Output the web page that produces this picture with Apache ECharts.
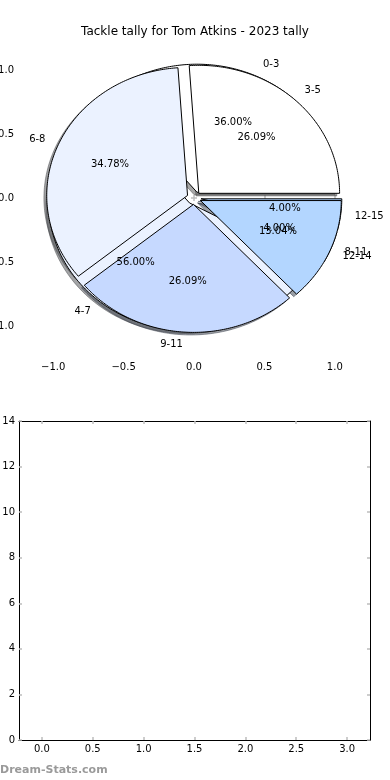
<!DOCTYPE html>
<html><head><meta charset="utf-8">
<script src="https://cdn.jsdelivr.net/npm/echarts@6/dist/echarts.min.js"></script>
<style>html,body{margin:0;padding:0;background:#fff}#c{width:390px;height:780px}</style>
</head><body><div id="c"></div>
<script>
const titleText = 'Tackle tally for Tom Atkins - 2023 tally';
const pieALabels = ['0-3', '4-7', '8-11', '12-15'];
const pieAValues = [9, 14, 1, 1];
const pieBLabels = ['3-5', '6-8', '9-11', '12-14'];
const pieBValues = [6, 8, 6, 3];
const pieColors = ['#ffffff', '#ebf2ff', '#c6d9ff', '#b3d6ff'];
const pieTicks = [-1, -0.5, 0, 0.5, 1];
const barXTicks = [0, 0.5, 1, 1.5, 2, 2.5, 3];
const barYMax = 14;
const watermarkText = 'Dream-Stats.com';

const FONT = 'DejaVu Sans';
const EXPLODE = 0.05, SHADOW = 0.02;

function wedges(values) {
  const total = values.reduce((a, b) => a + b, 0);
  let t1 = 0; const out = [];
  values.forEach((v, i) => {
    const t2 = t1 + v / total;
    const tm = Math.PI * (t1 + t2);
    out.push({ i, a1: t1 * 2 * Math.PI, a2: t2 * 2 * Math.PI, tm,
      cx: EXPLODE * Math.cos(tm), cy: EXPLODE * Math.sin(tm), frac: v / total });
    t1 = t2;
  });
  return out;
}
const pieA = wedges(pieAValues), pieB = wedges(pieBValues);
const pies = [pieA, pieB];
const pieLabelSets = [pieALabels, pieBLabels];

function poly(api, w, dx, dy) {
  const pts = [api.coord([w.cx + dx, w.cy + dy])];
  const n = Math.max(6, Math.ceil((w.a2 - w.a1) / 0.015));
  for (let k = 0; k <= n; k++) {
    const a = w.a1 + (w.a2 - w.a1) * k / n;
    pts.push(api.coord([w.cx + dx + Math.cos(a), w.cy + dy + Math.sin(a)]));
  }
  return pts;
}
function darker(hex) {
  const r = parseInt(hex.slice(1, 3), 16), g = parseInt(hex.slice(3, 5), 16), b = parseInt(hex.slice(5, 7), 16);
  return `rgba(${Math.round(r * 0.3)},${Math.round(g * 0.3)},${Math.round(b * 0.3)},0.5)`;
}
const minus = v => String(v).replace('-', '\u2212');
const fmt1 = v => minus(Number(v).toFixed(1));

const shadowData = [];
pies.forEach((p, pi) => p.forEach((w, i) => shadowData.push([pi, i])));

function wedgeSeries(pi, z) {
  return {
    type: 'custom', coordinateSystem: 'cartesian2d', xAxisIndex: 0, yAxisIndex: 0, z,
    silent: true, animation: false,
    data: (pi === 0 ? pieAValues : pieBValues).map((v, i) => [i, v]),
    renderItem: (params, api) => {
      const w = pies[pi][params.dataIndex];
      return { type: 'polygon', shape: { points: poly(api, w, 0, 0) },
        style: { fill: pieColors[w.i % pieColors.length], stroke: '#000', lineWidth: 1 } };
    }
  };
}
function textSeries(pi, z) {
  return {
    type: 'custom', coordinateSystem: 'cartesian2d', xAxisIndex: 0, yAxisIndex: 0, z,
    silent: true, animation: false,
    data: (pi === 0 ? pieAValues : pieBValues).map((v, i) => [i, v]),
    renderItem: (params, api) => {
      const w = pies[pi][params.dataIndex];
      const lx = w.cx + 1.1 * Math.cos(w.tm), ly = w.cy + 1.1 * Math.sin(w.tm);
      const px = w.cx + 0.6 * Math.cos(w.tm), py = w.cy + 0.6 * Math.sin(w.tm);
      const lp = api.coord([lx, ly]), pp = api.coord([px, py]);
      return { type: 'group', children: [
        { type: 'text', style: { text: pieLabelSets[pi][w.i], x: lp[0], y: lp[1], fill: '#000',
          font: '10px "' + FONT + '"', textAlign: lx > 0 ? 'left' : 'right', textVerticalAlign: 'middle' } },
        { type: 'text', style: { text: (w.frac * 100).toFixed(2) + '%', x: pp[0], y: pp[1], fill: '#000',
          font: '10px "' + FONT + '"', textAlign: 'center', textVerticalAlign: 'middle' } }
      ] };
    }
  };
}

const tickStyle = { show: true, inside: true, length: 3, lineStyle: { color: '#bdbdbd', width: 1.5 } };
const labelBase = { color: '#000', fontSize: 10, fontFamily: FONT };

const option = {
  backgroundColor: '#fff',
  animation: false,
  title: { text: titleText, left: 'center', top: 21,
    textStyle: { fontSize: 12, fontWeight: 'normal', color: '#000', fontFamily: FONT } },
  grid: [
    { left: 18, top: 38, width: 352, height: 320, containLabel: false, outerBoundsMode: 'none' },
    { left: 19, top: 421, width: 351, height: 319, containLabel: false, outerBoundsMode: 'none' }
  ],
  xAxis: [
    { gridIndex: 0, type: 'value', min: -1.25, max: 1.25, position: 'bottom',
      axisLine: { show: false }, splitLine: { show: false },
      axisTick: Object.assign({ customValues: pieTicks }, tickStyle),
      axisLabel: Object.assign({ customValues: pieTicks, formatter: fmt1, margin: 4 }, labelBase) },
    { gridIndex: 0, type: 'value', min: -1.25, max: 1.25, position: 'top',
      axisLine: { show: false }, splitLine: { show: false },
      axisTick: Object.assign({ customValues: pieTicks }, tickStyle),
      axisLabel: { show: false, customValues: pieTicks } },
    { gridIndex: 1, type: 'value', min: -0.225, max: 3.225, position: 'bottom',
      axisLine: { show: true, onZero: false, lineStyle: { color: '#000', width: 1 } }, splitLine: { show: false },
      axisTick: Object.assign({ customValues: barXTicks }, tickStyle),
      axisLabel: Object.assign({ customValues: barXTicks, formatter: fmt1, margin: 4 }, labelBase) },
    { gridIndex: 1, type: 'value', min: -0.225, max: 3.225, position: 'top',
      axisLine: { show: true, onZero: false, lineStyle: { color: '#000', width: 1 } }, splitLine: { show: false },
      axisTick: Object.assign({ customValues: barXTicks }, tickStyle),
      axisLabel: { show: false, customValues: barXTicks } }
  ],
  yAxis: [
    { gridIndex: 0, type: 'value', min: -1.25, max: 1.25, position: 'left',
      axisLine: { show: false }, splitLine: { show: false },
      axisTick: Object.assign({ customValues: pieTicks }, tickStyle),
      axisLabel: Object.assign({ customValues: pieTicks, formatter: fmt1, margin: 4 }, labelBase) },
    { gridIndex: 0, type: 'value', min: -1.25, max: 1.25, position: 'right',
      axisLine: { show: false }, splitLine: { show: false },
      axisTick: Object.assign({ customValues: pieTicks }, tickStyle),
      axisLabel: { show: false, customValues: pieTicks } },
    { gridIndex: 1, type: 'value', min: 0, max: barYMax, interval: 2, position: 'left',
      axisLine: { show: true, onZero: false, lineStyle: { color: '#000', width: 1 } }, splitLine: { show: false },
      axisTick: tickStyle,
      axisLabel: Object.assign({ margin: 4 }, labelBase) },
    { gridIndex: 1, type: 'value', min: 0, max: barYMax, interval: 2, position: 'right',
      axisLine: { show: true, onZero: false, lineStyle: { color: '#000', width: 1 } }, splitLine: { show: false },
      axisTick: tickStyle,
      axisLabel: { show: false } }
  ],
  graphic: [
    { type: 'text', left: 0, top: 765, style: { text: watermarkText, fill: '#9a9a9a',
      font: 'bold 11px "' + FONT + '"' } }
  ],
  series: [
    { type: 'custom', coordinateSystem: 'cartesian2d', xAxisIndex: 0, yAxisIndex: 0, z: 2,
      silent: true, animation: false, data: shadowData,
      renderItem: (params, api) => {
        const d = shadowData[params.dataIndex];
        const w = pies[d[0]][d[1]];
        const c = darker(pieColors[w.i % pieColors.length]);
        return { type: 'polygon', shape: { points: poly(api, w, -SHADOW, -SHADOW) },
          style: { fill: c, stroke: c, lineWidth: 1 } };
      } },
    wedgeSeries(0, 3),
    wedgeSeries(1, 4),
    textSeries(0, 5),
    textSeries(1, 6)
  ]
};
const chart = echarts.init(document.getElementById('c'), null, { renderer: 'canvas' });
chart.setOption(option);
</script></body></html>
